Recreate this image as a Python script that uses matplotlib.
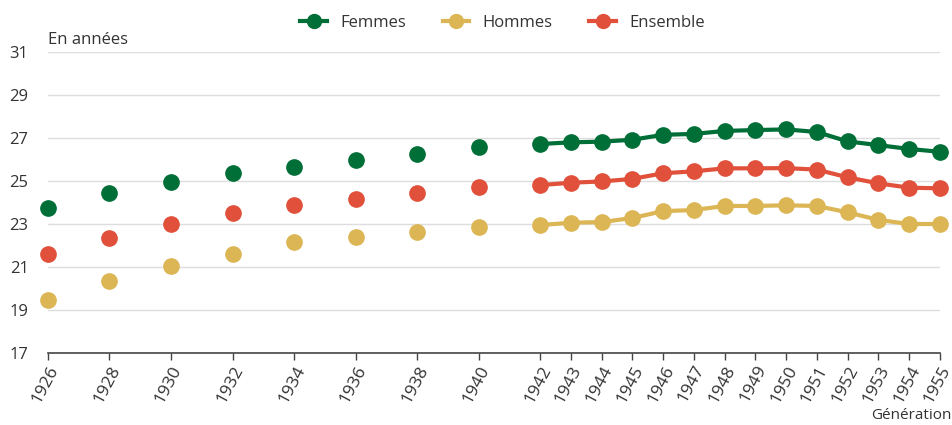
import matplotlib.pyplot as plt
from matplotlib.lines import Line2D

# cohorts observed every two years (dots only)
early_years = [1926, 1928, 1930, 1932, 1934, 1936, 1938, 1940]
early_femmes = [23.75, 24.45, 24.95, 25.35, 25.65, 26.0, 26.25, 26.57]
early_hommes = [19.45, 20.35, 21.05, 21.6, 22.15, 22.4, 22.62, 22.88]
early_ensemble = [21.6, 22.35, 23.0, 23.5, 23.88, 24.18, 24.45, 24.7]

# yearly cohorts (joined by lines)
late_years = list(range(1942, 1956))
late_femmes = [26.72, 26.8, 26.83, 26.92, 27.15, 27.19, 27.33, 27.37, 27.4,
               27.28, 26.84, 26.67, 26.49, 26.36]
late_hommes = [22.95, 23.06, 23.09, 23.28, 23.6, 23.65, 23.84, 23.84, 23.87,
               23.84, 23.54, 23.19, 23.0, 23.0]
late_ensemble = [24.81, 24.92, 24.98, 25.1, 25.36, 25.45, 25.59, 25.59, 25.6,
                 25.53, 25.17, 24.89, 24.69, 24.66]

tick_years = early_years + late_years
y_ticks = [17, 19, 21, 23, 25, 27, 29, 31]

GREEN = '#006e37'
GOLD = '#dcb654'
RED = '#e0503b'
TEXT = '#333333'

plt.rcParams['font.family'] = ['Open Sans', 'DejaVu Sans']

fig = plt.figure(figsize=(9.52, 4.25), dpi=100)
ax = fig.add_axes([0.0504, 0.1694, 0.9370, 0.7082])

series = [
    ('Femmes', early_femmes, late_femmes, GREEN),
    ('Hommes', early_hommes, late_hommes, GOLD),
    ('Ensemble', early_ensemble, late_ensemble, RED),
]
for label, early, late, color in series:
    ax.plot(early_years, early, linestyle='none', marker='o', markersize=11,
            color=color, clip_on=False, zorder=3)
    ax.plot(late_years, late, linestyle='-', linewidth=3, marker='o',
            markersize=11, color=color, clip_on=False, zorder=3)

ax.set_xlim(1926, 1955)
ax.set_ylim(17, 31)
ax.set_yticks(y_ticks)
ax.set_yticklabels([str(v) for v in y_ticks], fontsize=12, color=TEXT)
ax.tick_params(axis='y', length=0, pad=14)
ax.set_xticks(tick_years)
ax.set_xticklabels([str(y) for y in tick_years], rotation=62, ha='right',
                   rotation_mode='anchor', fontsize=12.5, color=TEXT)
ax.tick_params(axis='x', length=5, width=1, color='#444444', pad=2)

ax.grid(axis='y', color='#dddddd', linewidth=1)
ax.set_axisbelow(True)
for side in ['top', 'right', 'left']:
    ax.spines[side].set_visible(False)
ax.spines['bottom'].set_color('#444444')
ax.spines['bottom'].set_linewidth(1.2)

fig.text(0.0504, 0.905, 'En années', fontsize=12, color=TEXT, ha='left', va='center')
fig.text(0.999, 0.022, 'Génération', fontsize=11, color=TEXT, ha='right', va='center')

handles = [Line2D([0], [0], color=c, linewidth=3, marker='o', markersize=10)
           for _, _, _, c in series]
fig.legend(handles, [s[0] for s in series], loc='center', bbox_to_anchor=(0.528, 0.947),
           ncol=3, frameon=False, fontsize=12, handlelength=1.6, columnspacing=2.2,
           labelcolor=TEXT)

fig.savefig('out.png', dpi=100)
